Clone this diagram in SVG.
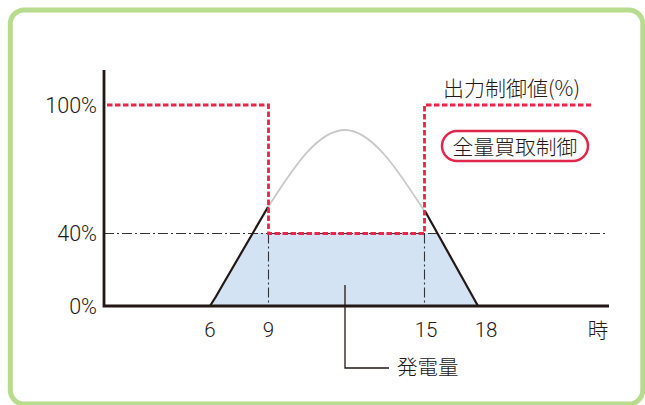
<svg xmlns="http://www.w3.org/2000/svg" width="645" height="405" viewBox="0 0 645 405">
<style>
.lbl{font-family:Roboto,"Liberation Sans",sans-serif;font-weight:300;font-size:20.5px;fill:#231815}
.pct{font-size:21.5px;text-anchor:end}
.tick{text-anchor:middle}
.jp{font-family:"Noto Sans CJK JP",sans-serif;font-weight:300;fill:#231815}
.dashdot{fill:none;stroke:#333;stroke-width:1.1;stroke-dasharray:10 3 2 3}
.red{fill:none;stroke:#e8254a;stroke-width:2.8;stroke-dasharray:5.5 2.5}
.blk{fill:none;stroke:#231815;stroke-width:2.2;stroke-linejoin:round}
</style>
<rect id="frame" x="10.3" y="10" width="632.5" height="394" rx="14" fill="#fff" stroke="#b8dc8e" stroke-width="5"/>
<g id="generation-area">
<path d="M210,306 Q216,297 222,286 L253,233 H437 L478,306 Z" fill="#d3e3f4"/>
</g>
<g id="connectors">
<path class="dashdot" d="M104,233.5 H605"/>
<path class="dashdot" d="M268.5,233.5 V306"/>
<path class="dashdot" d="M424.5,233.5 V306"/>
<path d="M268,207 C288,177 315,130 345,130 C375,130 405,182 425,212" fill="none" stroke="#c9c9c9" stroke-width="1.8"/>
<path class="blk" d="M210,306 Q216,297 222,286 L268,207"/>
<path class="blk" d="M425,211 L478,306"/>
<path class="red" d="M107,105 H268.5 V233.5 H424.5 V105 H591"/>
<path d="M345,285 V368 H389" fill="none" stroke="#231815" stroke-width="1.3"/>
<path d="M104,70 V306 H609" fill="none" stroke="#231815" stroke-width="2.8"/>
</g>
<g id="y-labels">
<text class="lbl pct" x="97" y="113">100%</text>
<text class="lbl pct" x="97" y="241">40%</text>
<text class="lbl pct" x="97" y="314">0%</text>
</g>
<g id="x-labels">
<text class="lbl tick" x="210" y="337">6</text>
<text class="lbl tick" x="268.5" y="337">9</text>
<text class="lbl tick" x="426" y="337">15</text>
<text class="lbl tick" x="486" y="337">18</text>
<text class="jp" x="598" y="337.5" font-size="20.5" text-anchor="middle">時</text>
</g>
<g id="control-label">
<text class="jp" x="443" y="95.5" font-size="21">出力制御値(%)</text>
</g>
<g id="full-purchase">
<rect x="442" y="131" width="146" height="30" rx="15" fill="#fff" stroke="#e0264b" stroke-width="2.5"/>
<text class="jp" x="515" y="154.5" font-size="20.8" text-anchor="middle">全量買取制御</text>
</g>
<g id="generation-label">
<text class="jp" x="397" y="375" font-size="20.5">発電量</text>
</g>
</svg>
